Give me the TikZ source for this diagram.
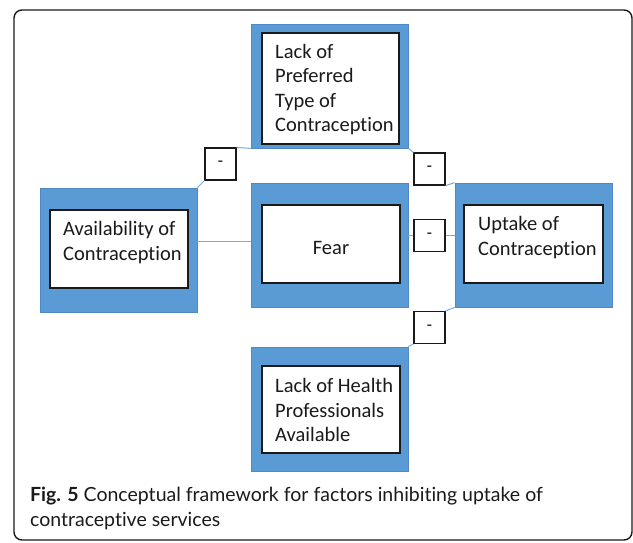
\documentclass[tikz,border=0pt]{standalone}
\usepackage{fontspec}
\setmainfont[Ligatures=NoCommon]{Carlito}
\newfontfamily\capfont[Ligatures=NoCommon]{Lato}
\usepackage{tikz}
\usetikzlibrary{positioning, calc}
\definecolor{boxblue}{HTML}{5B9BD5}
\definecolor{boxedge}{HTML}{4F88C2}
\definecolor{linkblue}{HTML}{7BAAD8}
\definecolor{ink}{HTML}{1A1A1A}
\tikzset{
  outer/.style={draw=boxedge, line width=0.8pt, fill=boxblue, minimum width=157pt, minimum height=124pt, inner sep=0pt},
  inner/.style={draw=ink, line width=1.3pt, fill=white, minimum width=137pt, minimum height=78pt, inner sep=0pt},
  sign/.style={draw=ink, line width=1.2pt, fill=white, minimum width=31pt, minimum height=32pt, inner sep=0pt,
    font=\fontsize{17}{20}\selectfont},
  label/.style={anchor=west, align=left, text=ink, inner sep=0pt, font=\fontsize{20.5}{24.5}\selectfont},
  link/.style={draw=linkblue, line width=1pt},
}
\begin{document}
\begin{tikzpicture}[x=1pt, y=-1pt]
  \useasboundingbox (0,0) rectangle (633,542);
  \draw[ink, line width=1.4pt, rounded corners=8pt] (14,10) rectangle (632,540);
  % ---- factor boxes: blue frame with a white panel inside
  \node[outer] (pref) at (329.5,86) {};
  \node[inner, minimum height=111pt] (prefin) at (330.5,88.5) {};
  \node[outer] (avail) at (118.5,250) {};
  \node[inner, minimum width=138pt] (availin) at (119,249) {};
  \node[outer] (fear) at (329.5,245) {};
  \node[inner, minimum width=138pt] (fearin) at (331,244) {};
  \node[outer] (uptake) at (533.5,245) {};
  \node[inner, minimum width=139pt] (uptakein) at (533.5,244) {};
  \node[outer] (health) at (329.5,409) {};
  \node[inner, minimum width=138pt, minimum height=87pt] (healthin) at (331,409.5) {};
  % ---- texts
  \node[label] (preftext) at (275,89.5) {Lack of\\Preferred\\Type of\\Contraception};
  \node[label] (availtext) at (63,242.5) {Availability of\\Contraception};
  \node[label, anchor=center] (feartext) at (331,248) {Fear};
  \node[label] (uptaketext) at (478,237.5) {Uptake of\\Contraception};
  \node[label] (healthtext) at (275,410) {Lack of Health\\Professionals\\Available};
  % ---- negative links
  \node[sign] (s1) at (220.5,164) {-};
  \node[sign] (s2) at (429.5,169) {-};
  \node[sign] (s3) at (429.5,235.5) {-};
  \node[sign] (s4) at (429.5,327.5) {-};
  \draw[link] (avail.north east) -- (s1.south west);
  \draw[link] (s1.north east) -- (pref.south west);
  \draw[link] (pref.south east) -- (s2.north west);
  \draw[link] (s2.south east) -- (uptake.north west);
  \draw[link] (avail.east |- 0,241) -- (fear.west |- 0,241);
  \draw[link] (fear.east |- s3) -- (s3.west);
  \draw[link] (s3.east) -- (uptake.west |- s3);
  \draw[link] (uptake.south west) -- (s4.north east);
  \draw[link] (s4.south west) -- (health.north east);
  % ---- caption
  \node[anchor=base west, align=left, inner sep=0pt, text=ink, font=\capfont\fontsize{19.5}{25}\selectfont] (caption)
    at (30,526) {\textbf{Fig. 5} Conceptual framework for factors inhibiting uptake of\\contraceptive services};
\end{tikzpicture}
\end{document}
